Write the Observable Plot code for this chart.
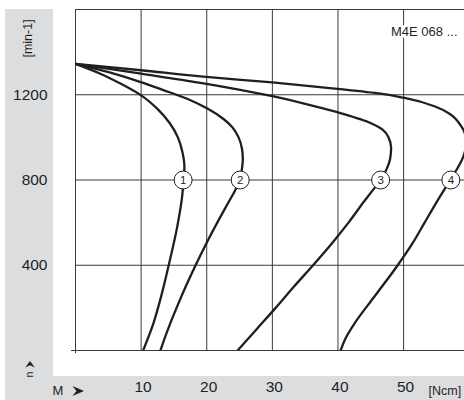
<!DOCTYPE html>
<html>
<head>
<meta charset="utf-8">
<script src="https://cdn.jsdelivr.net/npm/d3@7"></script>
<script src="https://cdn.jsdelivr.net/npm/@observablehq/plot@0.6"></script>
<style>
  html, body { margin: 0; padding: 0; background: #fff; }
  #wrap { position: relative; width: 464px; height: 400px; background: #fff; overflow: hidden; }
  .strip { position: absolute; background: #dcdddf; }
  #chart { position: absolute; left: 0; top: 0; }
</style>
</head>
<body>
<div id="wrap">
  <div class="strip" style="left:5px; top:9px; width:48px; height:391px;"></div>
  <div class="strip" style="left:5px; top:376px; width:459px; height:24px;"></div>
  <div id="chart"></div>
</div>
<script>
// ---- data ----
const xTicks = [10, 20, 30, 40, 50];
const yTicks = [400, 800, 1200];
const xUnit = "[Ncm]";
const yUnit = "[min-1]";
const xName = "M";
const yName = "n";
const modelName = "M4E 068 ...";

// speed [min-1] (ascending) and torque [Ncm] for each curve
const speed1  = [0, 130, 260, 400, 580, 736, 800, 860, 930, 1000, 1065, 1130, 1197, 1250, 1300, 1345];
const torque1 = [10.3, 11.9, 13.1, 14.2, 15.5, 16.3, 16.45, 16.6, 16.3, 15.6, 14.4, 12.6, 10.0, 7.0, 3.7, 0];

const speed2  = [0, 100, 200, 300, 400, 500, 600, 700, 750, 800, 850, 900, 950, 1000, 1048, 1085, 1135, 1180, 1222, 1262, 1305, 1345];
const torque2 = [12.94, 14.1, 15.4, 16.8, 18.3, 19.9, 21.6, 23.4, 24.3, 25.0, 25.35, 25.5, 25.35, 24.85, 23.9, 22.6, 20.1, 17.1, 13.4, 9.7, 5.2, 0];

const speed3  = [0, 100, 200, 300, 400, 500, 600, 700, 750, 800, 850, 900, 950, 1000, 1036, 1072, 1118, 1160, 1193, 1256, 1299, 1345];
const torque3 = [24.7, 27.6, 30.5, 33.3, 36.2, 39.0, 41.6, 44.0, 45.25, 46.5, 47.4, 47.95, 48.1, 47.7, 46.8, 44.6, 39.9, 34.7, 30.0, 19.05, 10.0, 0];

const speed4  = [0, 60, 126, 251, 400, 500, 600, 700, 800, 860, 910, 960, 1010, 1056, 1111, 1145, 1186, 1205, 1228, 1258, 1286, 1315, 1345];
const torque4 = [40.4, 41.2, 42.5, 45.5, 49.1, 51.3, 53.2, 55.1, 57.1, 58.3, 59.1, 59.5, 59.4, 58.7, 57.0, 54.8, 50.0, 46.5, 39.9, 30.0, 19.05, 10.0, 0];

const labelIds = ["1", "2", "3", "4"];
const labelTorque = [16.4, 25.1, 46.5, 57.2];
const labelSpeed = [800, 800, 800, 800];

// ---- build tables ----
const series = [
  [torque1, speed1], [torque2, speed2], [torque3, speed3], [torque4, speed4]
];
const curveData = series.flatMap(([xs, ys], i) =>
  xs.map((x, j) => ({id: labelIds[i], x, y: ys[j]})));
const labels = labelIds.map((id, i) => ({id, x: labelTorque[i], y: labelSpeed[i]}));

const ink = "#1f1f1f";
const gridInk = "#3a3a3a";
const font = "Liberation Sans, Arial, Helvetica, sans-serif";

const arrowRight = {
  draw(ctx) {
    ctx.moveTo(6, 0);
    ctx.lineTo(-5.6, -5);
    ctx.lineTo(-1.5, 0);
    ctx.lineTo(-5.6, 5);
    ctx.closePath();
  }
};
const arrowUp = {
  draw(ctx) {
    ctx.moveTo(0, -3.6);
    ctx.lineTo(4.8, 3);
    ctx.lineTo(0, 0.8);
    ctx.lineTo(-4.8, 3);
    ctx.closePath();
  }
};

const xMax = 59.28;

const chart = Plot.plot({
  width: 464,
  height: 400,
  marginLeft: 75,
  marginRight: 0,
  marginTop: 9,
  marginBottom: 50,
  style: {fontFamily: font, background: "transparent", overflow: "visible"},
  x: {domain: [0, xMax], axis: null},
  y: {domain: [0, 1600], axis: null},
  marks: [
    // grid
    Plot.ruleX(xTicks, {stroke: gridInk, strokeWidth: 1, strokeOpacity: 1}),
    Plot.ruleY(yTicks, {stroke: gridInk, strokeWidth: 1, strokeOpacity: 1}),
    // frame
    Plot.ruleY([1600], {stroke: gridInk, strokeOpacity: 1}),
    Plot.ruleX([0], {y1: -15, y2: 1600, stroke: gridInk, strokeOpacity: 1}),
    Plot.ruleY([0], {x1: -0.6, x2: xMax, stroke: gridInk, strokeOpacity: 1}),
    // curves
    Plot.line(curveData, {x: "x", y: "y", z: "id", curve: "monotone-y",
      stroke: ink, strokeWidth: 2.3, clip: true}),
    // curve labels
    Plot.dot(labels, {x: "x", y: "y", r: 9, fill: "white", stroke: ink, strokeWidth: 1}),
    Plot.text(labels, {x: "x", y: "y", text: "id", fontSize: 11.5, fill: ink, dy: 0.5,
      textAnchor: "middle", lineAnchor: "middle"}),
    // model name
    Plot.text([modelName], {frameAnchor: "top-right", dx: -7, dy: 22, text: d => d,
      textAnchor: "end", lineAnchor: "middle", fontSize: 13, fill: ink,
      stroke: "white", strokeWidth: 6}),
    // tick labels
    Plot.text(yTicks, {y: d => d, text: d => String(d), frameAnchor: "left", dx: -28,
      textAnchor: "end", lineAnchor: "middle", fontSize: 15.5, fill: ink}),
    Plot.text(xTicks, {x: d => d, text: d => String(d), frameAnchor: "bottom", dx: 2, dy: 37,
      textAnchor: "middle", lineAnchor: "middle", fontSize: 15.5, fill: ink}),
    // axis names / units
    Plot.text([yUnit], {frameAnchor: "top-left", dx: -47.5, dy: 29, text: d => d,
      rotate: -90, textAnchor: "middle", lineAnchor: "middle", fontSize: 12.5, fill: ink}),
    Plot.text([yName], {frameAnchor: "bottom-left", dx: -46, dy: 24, text: d => d,
      rotate: -90, textAnchor: "middle", lineAnchor: "middle", fontSize: 10.5, fill: ink}),
    Plot.dot([0], {frameAnchor: "bottom-left", dx: -45.5, dy: 14, symbol: arrowUp,
      fill: ink, stroke: null, r: 3}),
    Plot.text([xName], {frameAnchor: "bottom-left", dx: -17.5, dy: 40, text: d => d,
      textAnchor: "middle", lineAnchor: "middle", fontSize: 13, fill: ink}),
    Plot.dot([0], {frameAnchor: "bottom-left", dx: 2.5, dy: 40.5, symbol: arrowRight,
      fill: ink, stroke: null, r: 3}),
    Plot.text([xUnit], {frameAnchor: "bottom-right", dx: -36, dy: 40, text: d => d,
      textAnchor: "start", lineAnchor: "middle", fontSize: 12.5, fill: ink})
  ]
});
document.getElementById("chart").appendChild(chart);
</script>
</body>
</html>
